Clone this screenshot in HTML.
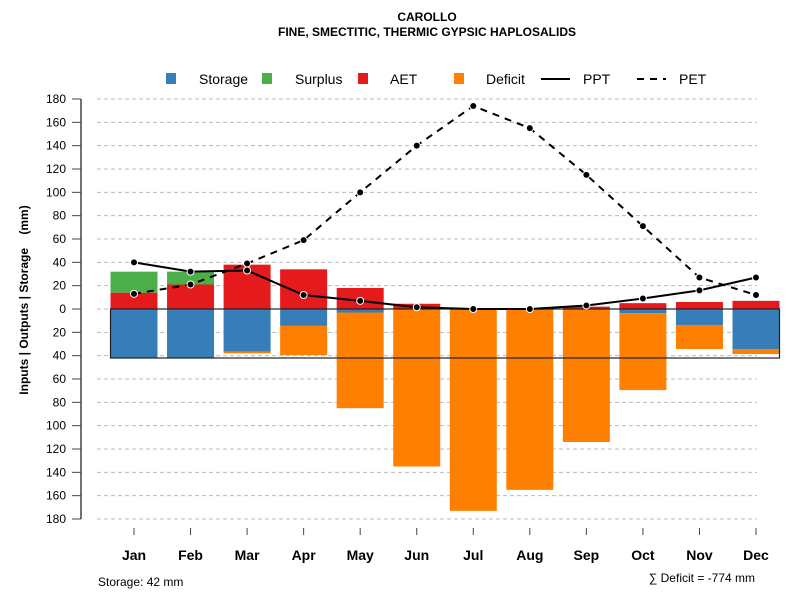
<!DOCTYPE html>
<html><head><meta charset="utf-8"><style>
body{margin:0;background:#fff;font-family:"Liberation Sans",sans-serif}
svg text{font-family:"Liberation Sans",sans-serif}
</style></head><body>
<svg id="chart" width="800" height="600" xmlns="http://www.w3.org/2000/svg">
<text x="427" y="21" font-size="12" font-weight="bold" text-anchor="middle">CAROLLO</text>
<text x="427" y="36" font-size="12" font-weight="bold" text-anchor="middle">FINE, SMECTITIC, THERMIC GYPSIC HAPLOSALIDS</text>
<g font-size="14">
<rect x="166" y="73" width="10" height="11" fill="#377EB8"/>
<text x="199" y="84">Storage</text>
<rect x="262" y="73" width="10" height="11" fill="#4DAF4A"/>
<text x="295" y="84">Surplus</text>
<rect x="358" y="73" width="10" height="11" fill="#E41A1C"/>
<text x="390" y="84">AET</text>
<rect x="454" y="73" width="10" height="11" fill="#FF7F00"/>
<text x="486" y="84">Deficit</text>
<line x1="541" y1="79" x2="570" y2="79" stroke="#000" stroke-width="2"/>
<text x="583" y="84">PPT</text>
<line x1="637" y1="79" x2="666" y2="79" stroke="#000" stroke-width="2" stroke-dasharray="7,6"/>
<text x="679" y="84">PET</text>
</g>
<g id="grid"></g><g id="bars"></g><g id="lines"></g><g id="axes"></g>
<text transform="translate(28,300) rotate(-90)" font-size="12" font-weight="bold" text-anchor="middle" xml:space="preserve">Inputs | Outputs | Storage    (mm)</text>
<text x="98" y="586" font-size="12">Storage: 42 mm</text>
<text x="755" y="582" font-size="12" text-anchor="end">∑ Deficit = -774 mm</text>
</svg>
<script>
const months=["Jan","Feb","Mar","Apr","May","Jun","Jul","Aug","Sep","Oct","Nov","Dec"];
const aet=[14,21,38,34,18,4.5,0,0,2,5,6,7];
const surplus=[18,11,0,0,0,0,0,0,0,0,0,0];
const storageUsed=[42,42,36.5,14.5,3,0,0,0,0,3.5,13.7,34.3];
const deficit=[0,0,1.5,25,82,135,173,155,114,66,20.6,4.3];
const ppt=[40,32,33,12,7,1.5,0,0,3,9,16,27];
const pet=[13,21,39,59,100,140,174,155,115,71,27,12];
const yTicks=[180,160,140,120,100,80,60,40,20,0,-20,-40,-60,-80,-100,-120,-140,-160,-180];
const storageCap=42;
const NS="http://www.w3.org/2000/svg";
const y=v=>309-v*210/180;
const x=i=>134+i*(756-134)/11;
const bw=47;
function mk(tag,attrs,parent,txt){const e=document.createElementNS(NS,tag);for(const k in attrs)e.setAttribute(k,attrs[k]);if(txt!==undefined)e.textContent=txt;document.getElementById(parent).appendChild(e);return e;}
yTicks.forEach(t=>{
  const g=mk("line",{x1:97,x2:757,y1:y(t),y2:y(t),stroke:"#bbb","stroke-dasharray":"4,3"},"grid");
  
  
  const tk=mk("line",{x1:72,x2:81,y1:y(t),y2:y(t),stroke:"#444"},"axes");
  
  
  const lb=mk("text",{x:66,y:y(t)+4,"font-size":12,"text-anchor":"end"},"axes",String(Math.abs(t)));
  
  
});
const ax=mk("line",{x1:81,x2:81,y1:y(180),y2:y(-180),stroke:"#444","stroke-width":1.5},"axes");


function bar(i,v0,v1,col,name){
  if(v1-v0<=0)return;
  const r=mk("rect",{x:x(i)-bw/2,y:y(v1),width:bw,height:y(v0)-y(v1),fill:col},"bars");
  
  
}
months.forEach((m,i)=>{
  bar(i,0,aet[i],"#E41A1C","bar-aet-"+m.toLowerCase());
  bar(i,aet[i],aet[i]+surplus[i],"#4DAF4A","bar-surplus-"+m.toLowerCase());
  bar(i,-storageUsed[i],0,"#377EB8","bar-storage-"+m.toLowerCase());
  bar(i,-storageUsed[i]-deficit[i],-storageUsed[i],"#FF7F00","bar-deficit-"+m.toLowerCase());
  const tk=mk("line",{x1:x(i),x2:x(i),y1:528,y2:535,stroke:"#444"},"axes");
  
  
  const lb=mk("text",{x:x(i),y:560,"font-size":14,"font-weight":"bold","text-anchor":"middle"},"axes",m);
  
  
});
const box=mk("rect",{x:x(0)-bw/2,y:y(0),width:x(11)+bw/2-(x(0)-bw/2),height:y(-storageCap)-y(0),fill:"none",stroke:"#222","stroke-width":1.2},"bars");


function series(vals,dash,name){
  const p=mk("polyline",{points:vals.map((v,i)=>x(i)+","+y(v)).join(" "),fill:"none",stroke:"#000","stroke-width":2,"stroke-dasharray":dash},"lines");
  
  
  vals.forEach((v,i)=>{
    const c=mk("circle",{cx:x(i),cy:y(v),r:3.5,fill:"#000",stroke:"#fff","stroke-width":1},"lines");
    
    
  });
}
series(pet,"7,6","pet");
series(ppt,"none","ppt");
</script>
</body></html>
